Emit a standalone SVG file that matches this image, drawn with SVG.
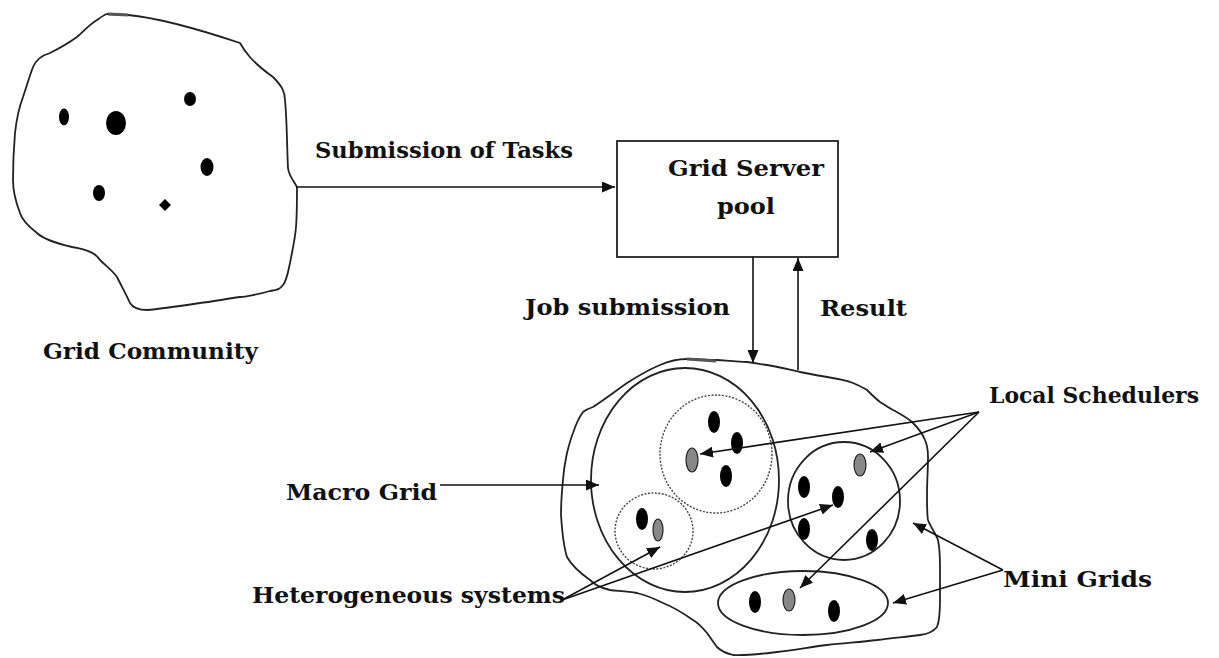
<svg xmlns="http://www.w3.org/2000/svg" width="1219" height="658" viewBox="0 0 1219 658">
  <defs>
    <marker id="arrow" viewBox="0 0 13 11" refX="13" refY="5.5" markerWidth="13" markerHeight="11" markerUnits="userSpaceOnUse" orient="auto">
      <path d="M0,0 L13,5.5 L0,11 Z" fill="#111"/>
    </marker>
    <style>
      .outline { fill: none; stroke: #222; stroke-width: 1.8; stroke-linejoin: round; }
      .dotted { fill: none; stroke: #444; stroke-width: 1.4; stroke-dasharray: 2 1.5; }
      .node { fill: #000; }
      .sched { fill: #888; stroke: #222; stroke-width: 1.2; }
      .label { font-family: "DejaVu Serif", "Liberation Serif", serif; font-weight: bold; font-size: 21.5px; fill: #111; }
      .edge { fill: none; stroke: #111; stroke-width: 1.6; marker-end: url(#arrow); }
    </style>
  </defs>
  <rect width="1219" height="658" fill="#fff"/>

  <!-- Grid community: irregular outline with member nodes -->
  <g id="grid-community">
    <path class="outline" d="M107,14 L128,15 C160,18 210,33 240,43 C245,52 252,62 273,77 C282,86 285,92 285,100 C287,120 287,150 288,168 C289,176 293,180 297,187 C297,200 297,215 296,227 C295,240 292,252 290,263 C288,272 287,280 283,285 C280,289 278,290 270,291 C260,294 245,297 240,297 C220,300 210,302 200,303 C180,306 160,309 147,310 C138,310 133,308 130,303 C127,296 122,287 117,277 C112,270 106,266 100,260 C96,254 90,250 72,247 C55,243 42,238 37,233 C28,226 22,220 20,213 C15,200 13,190 13,180 C13,160 14,145 15,133 C17,115 20,105 23,97 C27,85 30,75 33,67 C37,58 43,55 50,53 C60,48 70,42 77,37 C85,30 90,24 97,20 C101,17 104,15 107,14 Z"/>
    <path d="M108,14 L128,15" stroke="#555" stroke-width="3" fill="none"/>
    <ellipse class="node" cx="64" cy="117" rx="5" ry="8.5"/>
    <ellipse class="node" cx="116" cy="123" rx="10" ry="12"/>
    <ellipse class="node" cx="190" cy="99" rx="6" ry="7"/>
    <ellipse class="node" cx="207" cy="167" rx="6.5" ry="9"/>
    <ellipse class="node" cx="99" cy="193" rx="6" ry="8"/>
    <path class="node" d="M165,199 L171,205 L165,211 L159,205 Z"/>
    <text class="label" x="43" y="359" textLength="215" lengthAdjust="spacingAndGlyphs">Grid Community</text>
  </g>

  <!-- Grid server pool -->
  <g id="grid-server-pool">
    <rect x="617" y="141" width="221" height="116" fill="#fff" stroke="#222" stroke-width="1.8"/>
    <text class="label" x="668" y="176" textLength="156" lengthAdjust="spacingAndGlyphs">Grid Server</text>
    <text class="label" x="717" y="214" textLength="58" lengthAdjust="spacingAndGlyphs">pool</text>
  </g>

  <!-- Execution environment: macro grid and mini grids -->
  <g id="grid-environment">
    <path class="outline" d="M687,359 C700,359 710,360 717,360 C730,361 740,362 747,362 C755,363 760,364 767,365 C780,367 790,370 800,372 C810,374 820,376 827,377 C840,379 848,381 853,383 C860,386 864,388 867,390 C872,395 876,399 880,402 C885,405 889,408 893,410 C900,414 908,418 913,423 C920,430 923,435 925,440 C928,447 928,452 928,457 C928,470 927,482 927,493 C927,505 927,515 928,520 C931,528 936,534 938,540 C940,550 940,558 940,567 C940,580 940,590 940,600 C940,612 939,622 937,627 C933,632 928,634 920,635 C905,637 890,638 877,640 C860,642 845,643 827,645 C810,647 795,650 777,652 C760,654 745,656 733,655 C725,653 720,650 717,647 C713,642 710,637 707,633 C702,627 698,623 693,620 C683,613 673,607 663,603 C655,599 645,595 637,593 C627,591 618,591 610,590 C600,588 594,584 590,580 C580,573 572,566 567,557 C563,545 562,530 561,515 C561,500 562,490 563,480 C564,466 566,458 567,453 C569,445 571,438 573,433 C576,424 580,416 583,412 C587,409 590,408 593,407 C605,399 617,390 627,383 C638,376 648,370 660,365 C669,361 678,359 687,359 Z"/>
    <path d="M687,359 L716,361" stroke="#555" stroke-width="3" fill="none"/>
  </g>

  <g id="macro-grid">
    <ellipse class="outline" cx="685" cy="480" rx="94" ry="112"/>
  </g>

  <g id="cluster-upper">
    <ellipse class="dotted" cx="716" cy="454" rx="56" ry="59"/>
    <ellipse class="node" cx="714" cy="422" rx="6" ry="11"/>
    <ellipse class="node" cx="737" cy="443" rx="6" ry="11"/>
    <ellipse class="node" cx="726" cy="476" rx="6" ry="11"/>
    <ellipse class="sched" cx="692" cy="460" rx="6" ry="12"/>
  </g>

  <g id="cluster-lower">
    <ellipse class="dotted" cx="654" cy="531" rx="39" ry="38"/>
    <ellipse class="node" cx="642" cy="519" rx="6" ry="11"/>
    <ellipse class="sched" cx="658" cy="530" rx="5" ry="11"/>
  </g>

  <g id="mini-grid-right">
    <ellipse class="outline" cx="844" cy="501" rx="56" ry="59"/>
    <ellipse class="sched" cx="860" cy="465" rx="6" ry="11"/>
    <ellipse class="node" cx="804" cy="487" rx="6" ry="11"/>
    <ellipse class="node" cx="838" cy="497" rx="6" ry="11"/>
    <ellipse class="node" cx="804" cy="529" rx="6" ry="11"/>
    <ellipse class="node" cx="872" cy="540" rx="6" ry="11"/>
  </g>

  <g id="mini-grid-bottom">
    <ellipse class="outline" cx="803" cy="603" rx="85" ry="32"/>
    <ellipse class="node" cx="755" cy="602" rx="6" ry="11"/>
    <ellipse class="sched" cx="789" cy="600" rx="6" ry="11"/>
    <ellipse class="node" cx="834" cy="611" rx="6" ry="11"/>
  </g>

  <!-- Labels -->
  <g id="labels">
    <text class="label" x="315" y="158" textLength="258" lengthAdjust="spacingAndGlyphs">Submission of Tasks</text>
    <text class="label" x="525" y="315" textLength="205" lengthAdjust="spacingAndGlyphs">Job submission</text>
    <text class="label" x="820" y="316" textLength="87" lengthAdjust="spacingAndGlyphs">Result</text>
    <text class="label" x="989" y="403" textLength="210" lengthAdjust="spacingAndGlyphs">Local Schedulers</text>
    <text class="label" x="1003" y="587" textLength="149" lengthAdjust="spacingAndGlyphs">Mini Grids</text>
    <text class="label" x="286" y="500" textLength="151" lengthAdjust="spacingAndGlyphs">Macro Grid</text>
    <text class="label" x="252" y="603" textLength="313" lengthAdjust="spacingAndGlyphs">Heterogeneous systems</text>
  </g>

  <!-- Connectors -->
  <g id="connectors">
    <line class="edge" x1="296" y1="187" x2="615" y2="187"/>
    <line class="edge" x1="753" y1="257" x2="753" y2="363"/>
    <line class="edge" x1="798" y1="370" x2="798" y2="258"/>
    <line class="edge" x1="440" y1="485" x2="599" y2="485"/>
    <line class="edge" x1="979" y1="412" x2="700" y2="454"/>
    <line class="edge" x1="979" y1="412" x2="870" y2="452"/>
    <line class="edge" x1="979" y1="412" x2="800" y2="588"/>
    <line class="edge" x1="562" y1="600" x2="660" y2="547"/>
    <line class="edge" x1="562" y1="600" x2="833" y2="505"/>
    <line class="edge" x1="1003" y1="570" x2="913" y2="523"/>
    <line class="edge" x1="1003" y1="570" x2="893" y2="603"/>
  </g>
</svg>
